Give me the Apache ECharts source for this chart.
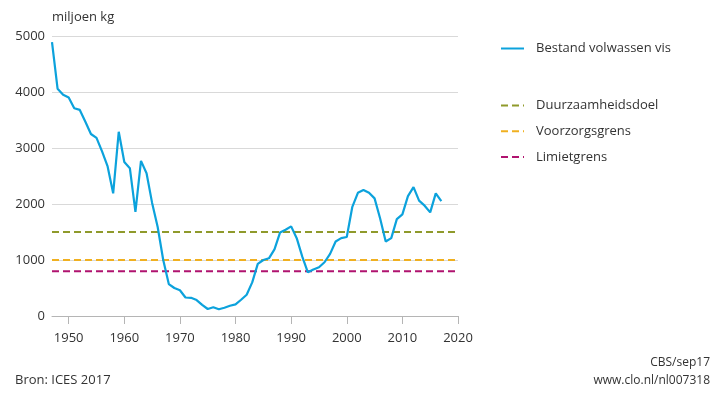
<!DOCTYPE html>
<html>
<head>
<meta charset="utf-8">
<script src="https://cdn.jsdelivr.net/npm/echarts@6/dist/echarts.min.js"></script>
<style>
  html, body { margin: 0; padding: 0; background: #fff; }
  #chart { width: 723px; height: 397px; }
</style>
</head>
<body>
<div id="chart"></div>
<script>
var years = [];
for (var y = 1947; y <= 2017; y++) years.push(y);

// adult fish stock, miljoen kg
var stock = [
    4890, 4060, 3950, 3900, 3710, 3680, 3470, 3250, 3180, 2940,
    2670, 2190, 3290, 2750, 2640, 1860, 2770, 2550, 2020, 1590,
    1000, 570, 500, 460, 330, 325, 285, 200, 125, 155,
    120, 148, 182, 208, 290, 380, 600, 930, 1000, 1030,
    1190, 1490, 1540, 1600, 1390, 1060, 780, 830, 870, 960,
    1110, 1330, 1390, 1410, 1950, 2200, 2250, 2200, 2100, 1740,
    1330, 1390, 1730, 1815, 2140, 2300, 2060, 1970, 1850, 2190,
    2050
];

var duurzaam = 1500;
var voorzorg = 1000;
var limiet = 800;

var xTicks = [1950, 1960, 1970, 1980, 1990, 2000, 2010, 2020];
var xMin = 1947, xMax = 2020;

var font = 'Open Sans';
var textColor = '#333';

var myChart = echarts.init(document.getElementById('chart'));

function flat(v) {
    return [[xMin, v], [xMax, v]];
}

var legendBase = {
    left: 495,
    itemWidth: 23,
    itemHeight: 14,
    itemStyle: { opacity: 0 },
    textStyle: { fontFamily: font, fontSize: 13, color: textColor, padding: [0, 0, 0, 7] }
};

option = {
    animation: false,
    textStyle: { fontFamily: font },
    grid: {
        left: 52,
        right: 265,
        top: 36,
        bottom: 81
    },
    legend: [
        Object.assign({}, legendBase, {
            top: 37,
            data: ['Bestand volwassen vis']
        }),
        Object.assign({}, legendBase, {
            top: 94,
            orient: 'vertical',
            itemGap: 12.7,
            data: ['Duurzaamheidsdoel', 'Voorzorgsgrens', 'Limietgrens']
        })
    ],
    graphic: [
        {
            type: 'text', left: 15, top: 374,
            style: { text: 'Bron: ICES 2017', font: '13px "' + font + '"', fill: textColor }
        },
        {
            type: 'text', right: 13, top: 357,
            style: { text: 'CBS/sep17', font: '12px "' + font + '"', fill: textColor, align: 'right' }
        },
        {
            type: 'text', right: 13, top: 375,
            style: { text: 'www.clo.nl/nl007318', font: '12px "' + font + '"', fill: textColor, align: 'right' }
        }
    ],
    xAxis: {
        type: 'value',
        min: xMin,
        max: xMax,
        splitLine: { show: false },
        axisLine: { lineStyle: { color: '#b5b5b5', width: 1 } },
        axisTick: {
            show: true,
            length: 8,
            customValues: xTicks,
            lineStyle: { color: '#b5b5b5' }
        },
        axisLabel: {
            customValues: xTicks,
            margin: 16,
            fontSize: 13,
            color: textColor,
            fontFamily: font,
            formatter: function (v) { return String(v); }
        }
    },
    yAxis: {
        type: 'value',
        min: 0,
        max: 5000,
        interval: 1000,
        name: 'miljoen kg',
        nameLocation: 'end',
        nameGap: 12,
        nameTextStyle: { align: 'left', fontSize: 13, color: textColor, fontFamily: font },
        axisLine: { show: false },
        axisTick: { show: false },
        axisLabel: {
            margin: 7, fontSize: 13, color: textColor, fontFamily: font,
            formatter: function (v) { return String(v); }
        },
        splitLine: { show: true, lineStyle: { color: '#d9d9d9', width: 1 } }
    },
    series: [
        {
            name: 'Duurzaamheidsdoel',
            type: 'line',
            symbol: 'none',
            data: flat(duurzaam),
            lineStyle: { color: '#8f9a2b', width: 2, type: [7, 4] },
            itemStyle: { color: '#8f9a2b' }
        },
        {
            name: 'Voorzorgsgrens',
            type: 'line',
            symbol: 'none',
            data: flat(voorzorg),
            lineStyle: { color: '#f0b020', width: 2, type: [7, 4] },
            itemStyle: { color: '#f0b020' }
        },
        {
            name: 'Limietgrens',
            type: 'line',
            symbol: 'none',
            data: flat(limiet),
            lineStyle: { color: '#b0136f', width: 2, type: [7, 4] },
            itemStyle: { color: '#b0136f' }
        },
        {
            name: 'Bestand volwassen vis',
            type: 'line',
            symbol: 'none',
            data: years.map(function (yr, i) { return [yr, stock[i]]; }),
            lineStyle: { color: '#0ca2dc', width: 2.2 },
            itemStyle: { color: '#0ca2dc' },
            z: 5
        }
    ]
};
myChart.setOption(option);
</script>
</body>
</html>
